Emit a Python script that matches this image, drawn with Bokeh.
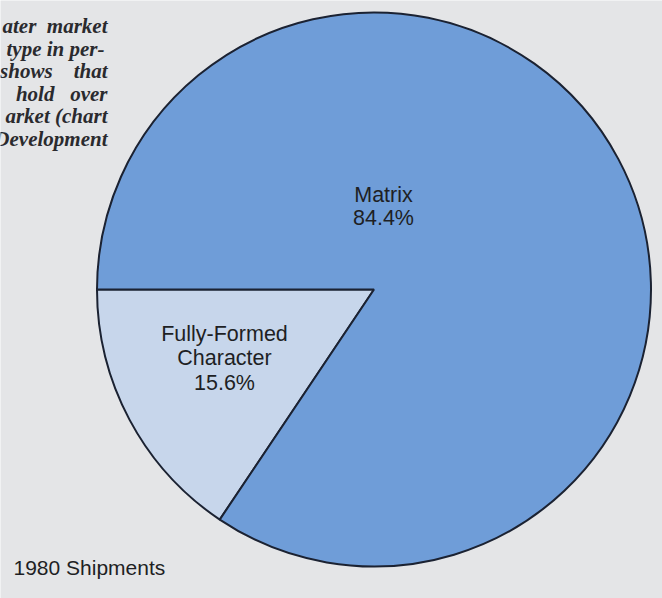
import math
from bokeh.plotting import figure
from bokeh.models import Range1d, ColumnDataSource
from bokeh.core.properties import value
from bokeh.embed import file_html
from bokeh.resources import INLINE

# ---- data ----
categories = ["Fully-Formed Character", "Matrix"]
label_lines = [["Fully-Formed", "Character"], ["Matrix"]]
shares = [15.6, 84.4]
colors = ["#c7d6eb", "#6f9dd8"]
caption = "1980 Shipments"
NB = "\u00a0"
side_text = ["ater" + NB * 2 + "market", "type" + NB + "in" + NB + "per-",
             "shows" + NB * 4 + "that", "hold" + NB * 3 + "over",
             "arket" + NB + "(chart", "Development"]

W, H = 662, 598
BG = "#e4e5e7"

p = figure(width=W, height=H, output_backend="svg", toolbar_location=None,
           x_range=Range1d(0, W), y_range=Range1d(0, H),
           min_border=0, background_fill_color=BG, border_fill_color=BG)
p.axis.visible = False
p.grid.visible = False
p.outline_line_color = None

def Y(y_ref):
    return 598 - y_ref

cx, cy, r = 373.5, Y(289), 277

# angles: start at the left (180 deg), going counter-clockwise
starts, ends = [], []
a = math.pi
for s in shares:
    starts.append(a)
    a += s / 100.0 * 2 * math.pi
    ends.append(a)

src = ColumnDataSource(dict(start=starts, end=ends, color=colors, cat=categories))
p.wedge(x=cx, y=cy, radius=r, start_angle="start", end_angle="end",
        fill_color="color", line_color="#1b2232", line_width=2, source=src)

font = value("Liberation Sans")
tc = "#1e1f24"

# Matrix label
mx = 383
p.text(x=[mx, mx], y=[Y(194), Y(217)], text=[label_lines[1][0], f"{shares[1]}%"],
       text_font=font, text_font_size="21.5px", text_color=tc,
       text_align="center", text_baseline="alphabetic")

# Fully-formed label
fx = 224
p.text(x=[fx, fx, fx], y=[Y(333), Y(357), Y(382)],
       text=label_lines[0] + [f"{shares[0]}%"],
       text_font=font, text_font_size="21.5px", text_color=tc,
       text_align="center", text_baseline="alphabetic")

# caption
p.text(x=[13], y=[Y(567)], text=[caption], text_font=font, text_font_size="21px",
       text_color=tc, text_align="left", text_baseline="alphabetic")

# side italic paragraph (cut off at left)
bases = [25, 48, 70.5, 93, 115.5, 138]
p.text(x=[107, 104, 107, 107, 107, 107], y=[Y(b) for b in bases], text=side_text,
       text_font=value("Liberation Serif"), text_font_style="bold italic", text_font_size="21px",
       text_color="#2a2a2e", text_align="right", text_baseline="alphabetic")

open("out.html", "w").write(file_html(p, INLINE))
